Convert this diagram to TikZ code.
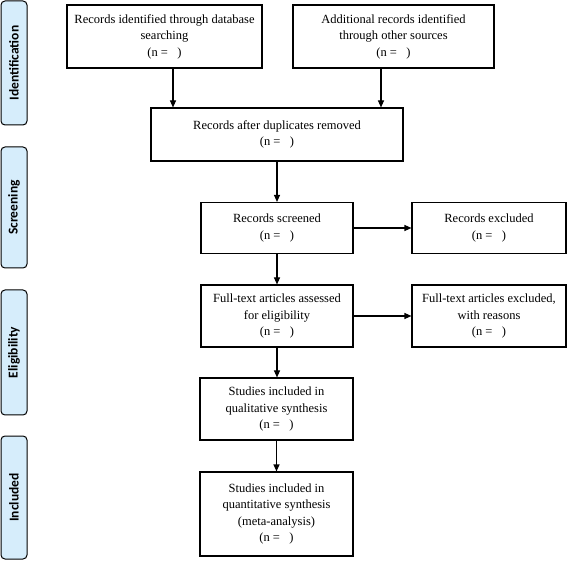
\documentclass[tikz,border=0pt]{standalone}
\usepackage{fontspec}
\setmainfont{Liberation Serif}
\newfontfamily\lblfont{Carlito}
\usetikzlibrary{arrows.meta}
\definecolor{sideblue}{HTML}{D6EDFB}
\begin{document}
\begin{tikzpicture}[x=1pt,y=-1pt,
 box/.style={draw, line width=1.1pt, align=center, font=\fontsize{12.5}{16.5}\selectfont, inner sep=0pt},
 side/.style={draw, line width=1pt, rounded corners=4pt, fill=sideblue, inner sep=0pt, rotate=90, font=\lblfont\bfseries\fontsize{13.5}{15}\selectfont},
 arr/.style={line width=1.1pt, -{Triangle[length=7pt,width=6pt]}}]
\useasboundingbox (0,0) rectangle (568,561);
% side labels
\node[side, minimum width=124pt, minimum height=26pt] (sid) at (14,63) {Identification};
\node[side, minimum width=121pt, minimum height=26pt] (sscr) at (14,207.5) {Screening};
\node[side, minimum width=125pt, minimum height=26pt] (selig) at (14,352.5) {Eligibility};
\node[side, minimum width=123pt, minimum height=26pt] (sinc) at (14,497.5) {Included};
% boxes
\node[box, minimum width=195pt, minimum height=63pt] (db) at (164.5,36.5) {Records identified through database\\searching\\(n =\ \ \ )};
\node[box, minimum width=201pt, minimum height=63pt] (add) at (393.5,36.5) {Additional records identified\\through other sources\\(n =\ \ \ )};
\node[box, minimum width=252pt, minimum height=53pt] (dup) at (277,134.5) {Records after duplicates removed\\(n =\ \ \ )};
\node[box, minimum width=152pt, minimum height=51pt] (scr) at (277,228) {Records screened\\(n =\ \ \ )};
\node[box, minimum width=154pt, minimum height=51pt] (exc) at (489,228) {Records excluded\\(n =\ \ \ )};
\node[box, minimum width=152pt, minimum height=62pt] (fta) at (277,316) {Full-text articles assessed\\for eligibility\\(n =\ \ \ )};
\node[box, minimum width=154pt, minimum height=62pt] (fte) at (489,316) {Full-text articles excluded,\\with reasons\\(n =\ \ \ )};
\node[box, minimum width=153pt, minimum height=62pt] (qual) at (276.5,409) {Studies included in\\qualitative synthesis\\(n =\ \ \ )};
\node[box, minimum width=153pt, minimum height=84pt] (quan) at (276.5,514) {Studies included in\\quantitative synthesis\\(meta-analysis)\\(n =\ \ \ )};
% connectors
\draw[arr] ([xshift=8.5pt]db.south) -- ([xshift=8.5pt]db.south |- dup.north);
\draw[arr] ([xshift=-12.5pt]add.south) -- ([xshift=-12.5pt]add.south |- dup.north);
\draw[arr] (dup.south) -- (scr.north);
\draw[arr] (scr.east) -- (exc.west);
\draw[arr] (scr.south) -- (fta.north);
\draw[arr] (fta.east) -- (fte.west);
\draw[arr] (fta.south) -- (fta.south |- qual.north);
\draw[arr] (qual.south) -- (quan.north);
\end{tikzpicture}
\end{document}
